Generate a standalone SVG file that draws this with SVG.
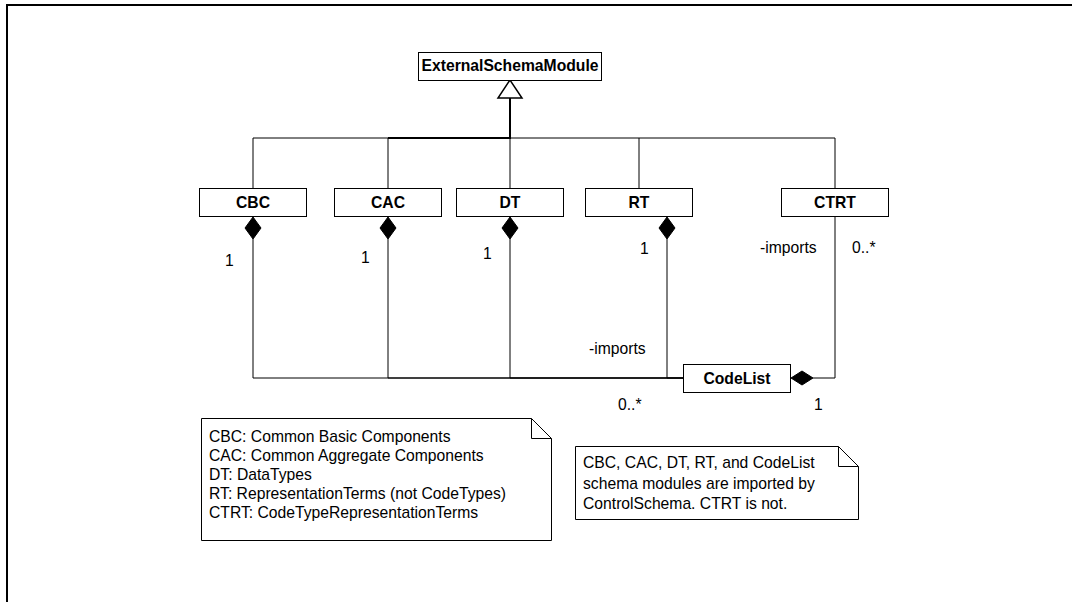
<svg xmlns="http://www.w3.org/2000/svg" width="1072" height="602" viewBox="0 0 1072 602">
<style>
.box{fill:#fff;stroke:#000;stroke-width:1}
.cls{font-family:"Liberation Sans",Arial,sans-serif;font-size:15.7px;font-weight:bold;fill:#000;text-anchor:middle}
.lbl{font-family:"Liberation Sans",Arial,sans-serif;font-size:15.7px;fill:#000}
.ln{fill:none;stroke:#000;stroke-width:1}
.thick{fill:none;stroke:#000;stroke-width:2}
.dia{fill:#000;stroke:#000;stroke-width:1}
.note{fill:#fff;stroke:#000;stroke-width:1}
</style>
<rect x="7" y="5" width="1080" height="610" fill="#fff" stroke="#000" stroke-width="2"/>
<g id="connectors">
  <!-- generalization -->
  <path class="ln" d="M253,188 V138 H835 V188"/>
  <path class="ln" d="M388,188 V138"/>
  <path class="ln" d="M510,188 V138"/>
  <path class="ln" d="M639,188 V138"/>
  <path class="thick" d="M388,138 H510 V98"/>
  <polygon points="510,80 498,98 522,98" fill="#fff" stroke="#000" stroke-width="1.5"/>
  <!-- compositions to CodeList -->
  <path class="ln" d="M253,239 V378 H683"/>
  <path class="ln" d="M388,239 V378 H683"/>
  <path class="ln" d="M510,239 V378 H683"/>
  <path class="ln" d="M667,239 V378 H683"/>
  <path class="ln" d="M835,217 V378 H813"/>
  <polygon class="dia" points="253,217 261,228 253,239 245,228"/>
  <polygon class="dia" points="388,217 396,228 388,239 380,228"/>
  <polygon class="dia" points="510,217 518,228 510,239 502,228"/>
  <polygon class="dia" points="667,217 675,228 667,239 659,228"/>
  <polygon class="dia" points="791,378 802,371 813,378 802,385"/>
  <text class="lbl" x="225" y="266">1</text>
  <text class="lbl" x="361" y="263">1</text>
  <text class="lbl" x="483" y="259">1</text>
  <text class="lbl" x="640" y="254">1</text>
  <text class="lbl" x="760" y="253">-imports</text>
  <text class="lbl" x="852" y="253">0..*</text>
  <text class="lbl" x="589" y="354">-imports</text>
  <text class="lbl" x="618" y="410">0..*</text>
  <text class="lbl" x="814" y="410">1</text>
</g>
<g id="ExternalSchemaModule">
  <rect class="box" x="418.5" y="52.5" width="183" height="28"/>
  <text class="cls" x="510" y="71">ExternalSchemaModule</text>
</g>
<g id="CBC">
  <rect class="box" x="199.5" y="188.5" width="107" height="28"/>
  <text class="cls" x="253" y="208">CBC</text>
</g>
<g id="CAC">
  <rect class="box" x="334.5" y="188.5" width="107" height="28"/>
  <text class="cls" x="388" y="208">CAC</text>
</g>
<g id="DT">
  <rect class="box" x="456.5" y="188.5" width="107" height="28"/>
  <text class="cls" x="510" y="208">DT</text>
</g>
<g id="RT">
  <rect class="box" x="585.5" y="188.5" width="107" height="28"/>
  <text class="cls" x="639" y="208">RT</text>
</g>
<g id="CTRT">
  <rect class="box" x="781.5" y="188.5" width="107" height="28"/>
  <text class="cls" x="835" y="208">CTRT</text>
</g>
<g id="CodeList">
  <rect class="box" x="683.5" y="364.5" width="107" height="28"/>
  <text class="cls" x="737" y="384">CodeList</text>
</g>
<g id="note1">
  <path class="note" d="M201.5,418.5 H531.5 L551.5,438.5 V540.5 H201.5 Z"/>
  <path class="ln" d="M531.5,418.5 V438.5 H551.5"/>
  <text class="lbl" x="209" y="442">CBC: Common Basic Components</text>
  <text class="lbl" x="209" y="461">CAC: Common Aggregate Components</text>
  <text class="lbl" x="209" y="480">DT: DataTypes</text>
  <text class="lbl" x="209" y="499">RT: RepresentationTerms (not CodeTypes)</text>
  <text class="lbl" x="209" y="518">CTRT: CodeTypeRepresentationTerms</text>
</g>
<g id="note2">
  <path class="note" d="M575.5,446.5 H838.5 L858.5,466.5 V519.5 H575.5 Z"/>
  <path class="ln" d="M838.5,446.5 V466.5 H858.5"/>
  <text class="lbl" x="583" y="468">CBC, CAC, DT, RT, and CodeList</text>
  <text class="lbl" x="583" y="488.5">schema modules are imported by</text>
  <text class="lbl" x="583" y="509">ControlSchema. CTRT is not.</text>
</g>
</svg>
